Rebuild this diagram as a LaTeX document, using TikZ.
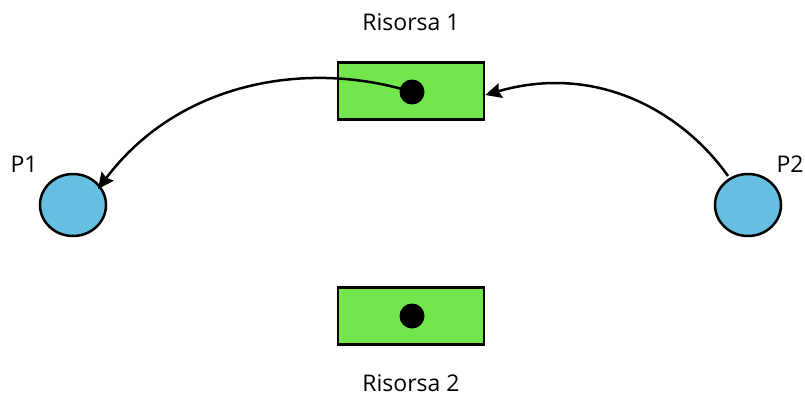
\documentclass[tikz,border=0pt]{standalone}
\usepackage{fontspec}
\setmainfont{Open Sans}
\usetikzlibrary{arrows.meta,shapes.geometric}
\definecolor{resgreen}{RGB}{114,230,74}
\definecolor{procblue}{RGB}{100,191,224}
\tikzset{
  resbox/.style={draw=black, line width=2.5pt, fill=resgreen, minimum width=146pt, minimum height=57pt, inner sep=0pt},
  token/.style={circle, fill=black, minimum size=25pt, inner sep=0pt},
  proc/.style={ellipse, draw=black, line width=2.5pt, fill=procblue, minimum width=66pt, minimum height=62pt, inner sep=0pt},
  lbl/.style={font=\fontsize{23}{26}\selectfont, inner sep=0pt},
  arc/.style={line width=2.5pt, -{Stealth[length=16pt,width=15pt,inset=2pt]}}
}
\begin{document}
\begin{tikzpicture}[x=1pt,y=-1pt]
\useasboundingbox (0,0) rectangle (805,396);
\node[resbox] (r1) at (411,91) {};
\node[resbox] (r2) at (411,316) {};
\node[token] (d1) at (412,92) {};
\node[token] (d2) at (412,316) {};
\node[proc] (p1) at (73,205) {};
\node[proc] (p2) at (748,205) {};
\node[lbl] (l1) at (411,22) {Risorsa 1};
\node[lbl] (l2) at (411,383) {Risorsa 2};
\node[lbl] (lp1) at (24,164) {P1};
\node[lbl] (lp2) at (790,164) {P2};
\coordinate (t1) at (98,189);
\coordinate (s2) at (728,176);
\coordinate (t2) at (r1.east |- 0,95);
\draw[arc] (d1.center) .. controls (310,60) and (180,80) .. (t1);
\draw[arc] (s2) .. controls (685,115) and (600,62) .. (t2);
\end{tikzpicture}
\end{document}
